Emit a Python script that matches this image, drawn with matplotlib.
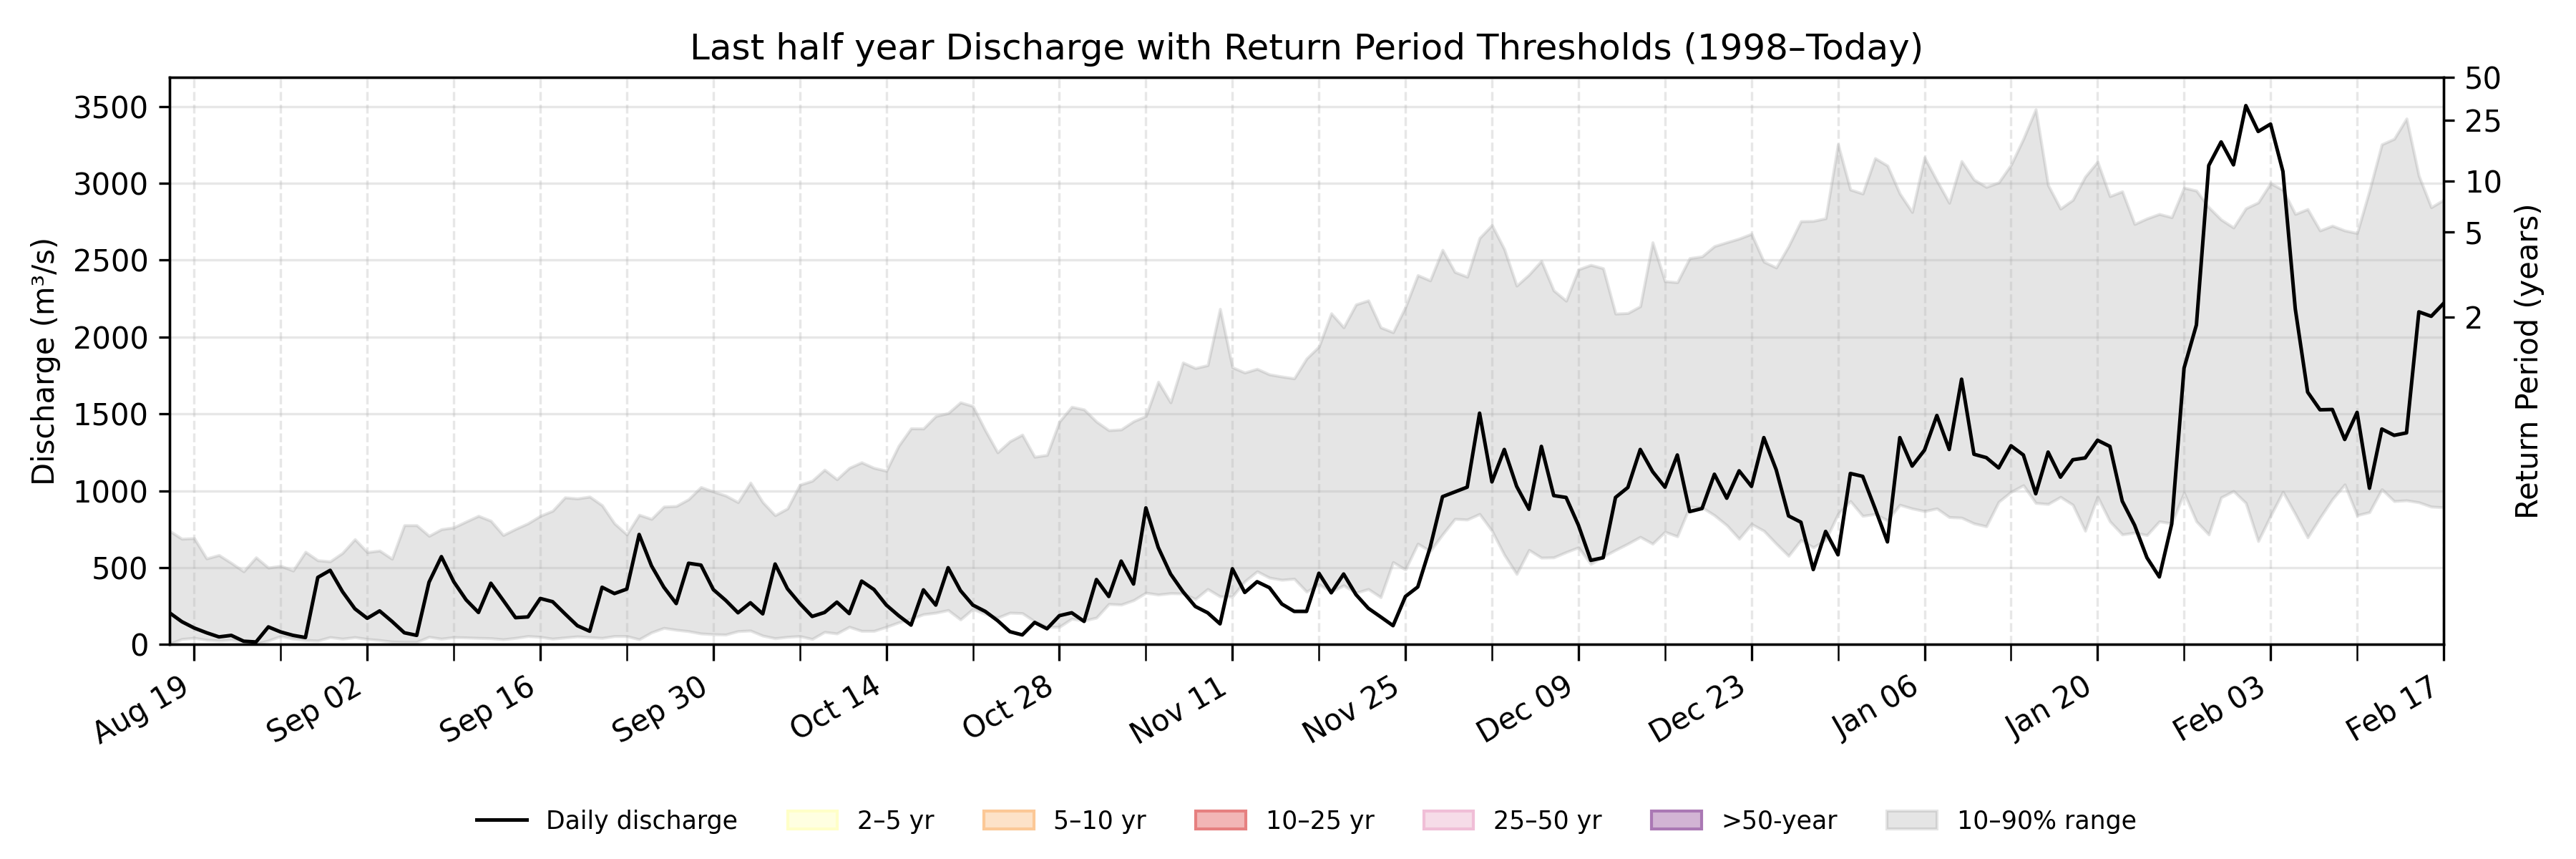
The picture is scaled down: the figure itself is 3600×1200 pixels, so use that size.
import matplotlib
matplotlib.use("Agg")
import matplotlib.pyplot as plt
import matplotlib.dates as mdates
from matplotlib.patches import Patch
import numpy as np
import pandas as pd

start_date = "2024-08-17"
end_date = "2025-02-17"

discharge = [
    207, 149, 108, 77, 50, 60, 22, 17, 115, 82,
    60, 46, 437, 483, 344, 233, 171, 219, 151, 77,
    60, 406, 572, 409, 291, 209, 399, 288, 175, 180,
    300, 279, 200, 123, 87, 373, 332, 361, 716, 512,
    373, 267, 529, 517, 358, 288, 207, 272, 200, 524,
    363, 267, 183, 209, 276, 202, 413, 358, 257, 188,
    127, 356, 257, 500, 351, 257, 216, 156, 84, 63,
    144, 103, 188, 207, 151, 423, 313, 543, 394, 889,
    632, 459, 344, 248, 207, 135, 493, 339, 409, 370,
    264, 216, 216, 464, 337, 459, 325, 236, 180, 123,
    313, 375, 632, 962, 993, 1024, 1505, 1058, 1269, 1029,
    880, 1289, 969, 957, 776, 548, 565, 957, 1022, 1269,
    1125, 1024, 1233, 865, 885, 1108, 952, 1130, 1029, 1346,
    1137, 837, 796, 488, 736, 584, 1113, 1094, 885, 668,
    1346, 1161, 1265, 1490, 1269, 1726, 1238, 1216, 1149, 1293,
    1233, 981, 1252, 1089, 1202, 1214, 1329, 1289, 933, 776,
    565, 440, 784, 1798, 2079, 3116, 3269, 3120, 3505, 3337,
    3385, 3077, 2183, 1642, 1527, 1529, 1334, 1510, 1017, 1402,
    1361, 1377, 2164, 2135, 2219,
]

q90 = [
    740, 688, 692, 560, 582, 531, 476, 567, 500, 512,
    481, 603, 548, 541, 596, 685, 601, 611, 558, 776,
    776, 707, 750, 762, 800, 837, 805, 712, 752, 788,
    837, 870, 957, 950, 962, 906, 788, 716, 844, 817,
    897, 901, 945, 1024, 995, 969, 926, 1053, 926, 841,
    885, 1039, 1065, 1137, 1075, 1149, 1185, 1149, 1130, 1293,
    1406, 1405, 1486, 1505, 1575, 1551, 1394, 1250, 1322, 1365,
    1221, 1233, 1450, 1546, 1529, 1450, 1394, 1399, 1452, 1486,
    1709, 1575, 1834, 1798, 1817, 2183, 1803, 1769, 1793, 1757,
    1743, 1731, 1860, 1938, 2154, 2063, 2212, 2238, 2063, 2031,
    2195, 2402, 2368, 2567, 2423, 2392, 2644, 2728, 2572, 2334,
    2406, 2495, 2303, 2236, 2440, 2469, 2447, 2152, 2156, 2200,
    2616, 2363, 2356, 2513, 2524, 2591, 2616, 2640, 2671, 2490,
    2452, 2591, 2753, 2755, 2772, 3253, 2959, 2933, 3163, 3115,
    2933, 2813, 3168, 3017, 2873, 3144, 3024, 2976, 3005, 3120,
    3289, 3481, 2988, 2835, 2892, 3043, 3140, 2916, 2947, 2735,
    2771, 2800, 2779, 2971, 2952, 2844, 2764, 2712, 2837, 2875,
    3000, 2957, 2800, 2832, 2693, 2724, 2693, 2676, 2952, 3253,
    3289, 3421, 3048, 2844, 2892,
]

q10 = [
    5, 36, 43, 31, 26, 31, 19, 5, 26, 55,
    38, 29, 26, 48, 38, 48, 36, 29, 19, 17,
    17, 50, 38, 48, 46, 43, 41, 34, 43, 55,
    50, 38, 46, 53, 48, 43, 55, 55, 34, 79,
    108, 96, 87, 72, 67, 65, 87, 91, 58, 41,
    50, 55, 36, 82, 72, 115, 89, 89, 115, 144,
    168, 197, 207, 224, 163, 231, 200, 175, 207, 204,
    151, 115, 115, 168, 156, 175, 264, 260, 288, 337,
    325, 334, 332, 296, 361, 313, 313, 411, 476, 435,
    421, 428, 344, 392, 344, 385, 337, 361, 308, 536,
    488, 656, 608, 716, 817, 813, 849, 740, 584, 459,
    615, 565, 567, 601, 632, 524, 572, 615, 656, 700,
    656, 733, 704, 897, 892, 841, 776, 688, 784, 740,
    656, 577, 680, 632, 680, 849, 933, 837, 849, 808,
    909, 885, 868, 885, 829, 825, 788, 769, 928, 993,
    1036, 921, 914, 960, 909, 740, 962, 801, 716, 728,
    712, 801, 788, 986, 801, 716, 957, 998, 921, 673,
    837, 993, 849, 697, 825, 945, 1041, 841, 861, 1010,
    933, 938, 925, 897, 892,
]

# Return period thresholds (discharge, m3/s) and labels
rp_labels = ["2", "5", "10", "25", "50"]
rp_discharge = [2132, 2684, 3015, 3410, 3687]

# Legend entries for threshold classes
class_labels = ["2–5 yr", "5–10 yr", "10–25 yr", "25–50 yr", ">50-year"]
class_faces = ["#ffffe1", "#fde2c8", "#f2b6b6", "#f6dce8", "#d2b4d4"]
class_edges = ["#ffffc8", "#fcc896", "#e68080", "#f0bed7", "#aa78b4"]

dates = pd.date_range(start_date, end_date, freq="D")

fig, ax = plt.subplots(figsize=(12, 4), dpi=300)
fig.subplots_adjust(left=0.0658, right=0.9486, bottom=0.2496, top=0.9096)

band = ax.fill_between(dates, q10, q90, color="gray", alpha=0.2,
                       label="10–90% range")
line, = ax.plot(dates, discharge, color="black", lw=1.2,
                label="Daily discharge")

ax.set_xlim(dates[0], dates[-1])
ax.set_ylim(0, rp_discharge[-1])
ax.set_yticks(np.arange(0, 3501, 500))
ax.set_ylabel("Discharge (m³/s)")
ax.set_title("Last half year Discharge with Return Period Thresholds (1998–Today)")

major = pd.date_range("2024-08-19", end_date, freq="14D")
minor = pd.date_range("2024-08-19", end_date, freq="7D")
ax.xaxis.set_major_locator(matplotlib.ticker.FixedLocator(mdates.date2num(major)))
ax.xaxis.set_minor_locator(matplotlib.ticker.FixedLocator(mdates.date2num(minor)))
ax.xaxis.set_major_formatter(mdates.DateFormatter("%b %d"))
ax.tick_params(axis="x", which="both", length=5.5)
for lbl in ax.get_xticklabels():
    lbl.set_rotation(30)
    lbl.set_ha("right")

ax.grid(axis="y", alpha=0.3)
ax.grid(axis="x", which="both", linestyle="--", alpha=0.3)

ax2 = ax.twinx()
ax2.set_ylim(ax.get_ylim())
ax2.set_yticks(rp_discharge)
ax2.set_yticklabels(rp_labels)
ax2.set_ylabel("Return Period (years)")

handles = [line]
for lab, fc, ec in zip(class_labels, class_faces, class_edges):
    handles.append(Patch(facecolor=fc, edgecolor=ec, linewidth=1.0, label=lab))
handles.append(band)
labels = [h.get_label() for h in handles]
fig.legend(handles, labels, loc="center", bbox_to_anchor=(0.5072, 0.0437),
           ncol=7, frameon=False, fontsize="small")

fig.savefig("out.png", dpi=300)
